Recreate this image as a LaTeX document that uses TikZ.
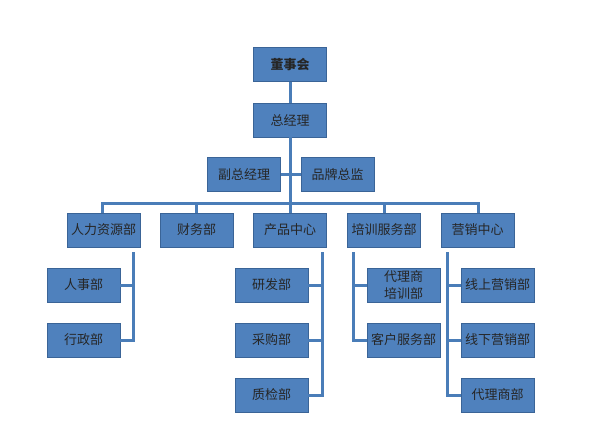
\documentclass[tikz,border=0pt]{standalone}
\usepackage{fontspec}
\setmainfont{Noto Sans CJK SC}
\begin{document}
\begin{tikzpicture}[x=1pt,y=-1pt,
  box/.style={draw=boxborder,fill=boxfill,line width=0.8pt,minimum width=73pt,minimum height=34pt,inner sep=1pt,align=center,font=\fontsize{13}{14}\selectfont,text=black!85},
  conn/.style={draw=linecol,line width=3pt}]
\definecolor{boxfill}{HTML}{4F81BD}
\definecolor{boxborder}{HTML}{3A6497}
\definecolor{linecol}{HTML}{4A7DB8}
\useasboundingbox (0,0) rectangle (589,444);
% top
\node[box,font=\fontsize{13}{14}\selectfont\bfseries] (dsh) at (290,64.5) {董事会};
\node[box] (zjl) at (290,120) {总经理};
\node[box] (fzjl) at (244,174.5) {副总经理};
\node[box] (ppzj) at (337.5,174.5) {品牌总监};
% level 2
\node[box] (rl) at (103.5,230) {人力资源部};
\node[box] (cw) at (196.5,230) {财务部};
\node[box] (cp) at (290,230) {产品中心};
\node[box] (px) at (384,230) {培训服务部};
\node[box] (yx) at (477.5,230) {营销中心};
% children
\node[box] (rs) at (83.5,285) {人事部};
\node[box] (xz) at (83.5,340) {行政部};
\node[box] (yf) at (271.5,285) {研发部};
\node[box] (cg) at (271.5,340) {采购部};
\node[box] (zj) at (271.5,395) {质检部};
\node[box,font=\fontsize{13}{17}\selectfont] (dlpx) at (403.5,285) {代理商\\培训部};
\node[box] (kf) at (403.5,340) {客户服务部};
\node[box] (xs) at (497.5,285) {线上营销部};
\node[box] (xx) at (497.5,340) {线下营销部};
\node[box] (dl) at (497.5,395) {代理商部};
% coordinates
\coordinate (bar) at (290,203);
\coordinate (barL) at (102,203);
\coordinate (barR) at (478,203);
% connectors top
\draw[conn] (dsh.south) -- (zjl.north);
\draw[conn] (zjl.south) -- (bar);
\draw[conn] (fzjl.east) -- (ppzj.west);
\draw[conn,line cap=rect] (barL) -- (barR);
\draw[conn] (barL) -- (rl.north -| barL);
\draw[conn] (cw.north |- bar) -- (cw.north);
\draw[conn] (bar) -- (cp.north);
\draw[conn] (px.north |- bar) -- (px.north);
\draw[conn] (barR) -- (yx.north -| barR);
% HR
\coordinate (rlv) at (133,252);
\draw[conn] (rlv) -- (rlv |- xz.east) -- (xz.east);
\draw[conn] (rs.east) -- (rs.east -| rlv);
% product
\coordinate (cpv) at (322,252);
\draw[conn] (cpv) -- (cpv |- zj.east) -- (zj.east);
\draw[conn] (yf.east) -- (yf.east -| cpv);
\draw[conn] (cg.east) -- (cg.east -| cpv);
% training
\coordinate (pxv) at (353,252);
\draw[conn] (pxv) -- (pxv |- kf.west) -- (kf.west);
\draw[conn] (dlpx.west) -- (dlpx.west -| pxv);
% marketing
\coordinate (yxv) at (447,252);
\draw[conn] (yxv) -- (yxv |- dl.west) -- (dl.west);
\draw[conn] (xs.west) -- (xs.west -| yxv);
\draw[conn] (xx.west) -- (xx.west -| yxv);
\end{tikzpicture}
\end{document}
